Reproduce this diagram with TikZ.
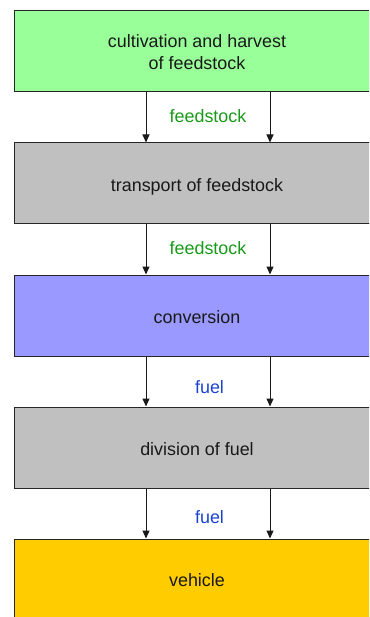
\documentclass[tikz,border=0pt]{standalone}
\usepackage{fontspec}
\setmainfont{Liberation Sans}
\usetikzlibrary{arrows.meta}
\definecolor{boxgreen}{HTML}{99FF99}
\definecolor{boxgray}{HTML}{C0C0C0}
\definecolor{boxblue}{HTML}{9999FF}
\definecolor{boxgold}{HTML}{FFCC00}
\definecolor{lblgreen}{HTML}{1A9A1A}
\definecolor{lblblue}{HTML}{1A44D0}
\begin{document}
\begin{tikzpicture}[x=1pt,y=-1pt,
  stagebox/.style={draw=black!85, line width=1pt, minimum width=366pt, minimum height=81pt,
    inner sep=0pt, align=center, font=\fontsize{17.9}{21.6}\selectfont, text=black!90,
    text height=16pt, text depth=0pt},
  flowlabel/.style={font=\fontsize{17.9}{21}\selectfont, inner sep=0pt, text height=16pt, text depth=0pt},
  flow/.style={draw=black!90, line width=1pt, -{Triangle[width=7pt,length=8pt]}}]
\useasboundingbox (0,0) rectangle (369,617);
\clip (0,0) rectangle (369,617);
\fill[white] (0,0) rectangle (369,617);
\node[stagebox, fill=boxgreen, text height=35.6pt] (b1) at (197,51.5) {cultivation and harvest\\of feedstock};
\node[stagebox, fill=boxgray] (b2) at (197,183.5) {transport of feedstock};
\node[stagebox, fill=boxblue] (b3) at (197,315.5) {conversion};
\node[stagebox, fill=boxgray] (b4) at (197,447.5) {division of fuel};
\node[stagebox, fill=boxgold, minimum height=84pt, text height=10pt] (b5) at (197,581) {vehicle};
\coordinate (xl) at (146,0);
\coordinate (xr) at (270,0);
\foreach \a/\b in {b1/b2,b2/b3,b3/b4,b4/b5}{
  \draw[flow] (\a.south -| xl) -- (\b.north -| xl);
  \draw[flow] (\a.south -| xr) -- (\b.north -| xr);
}
\node[flowlabel, text=lblgreen] (l1) at (208,115) {feedstock};
\node[flowlabel, text=lblgreen] (l2) at (208,246.5) {feedstock};
\node[flowlabel, text=lblblue] (l3) at (209.5,385.5) {fuel};
\node[flowlabel, text=lblblue] (l4) at (209.5,515.5) {fuel};
\end{tikzpicture}
\end{document}
